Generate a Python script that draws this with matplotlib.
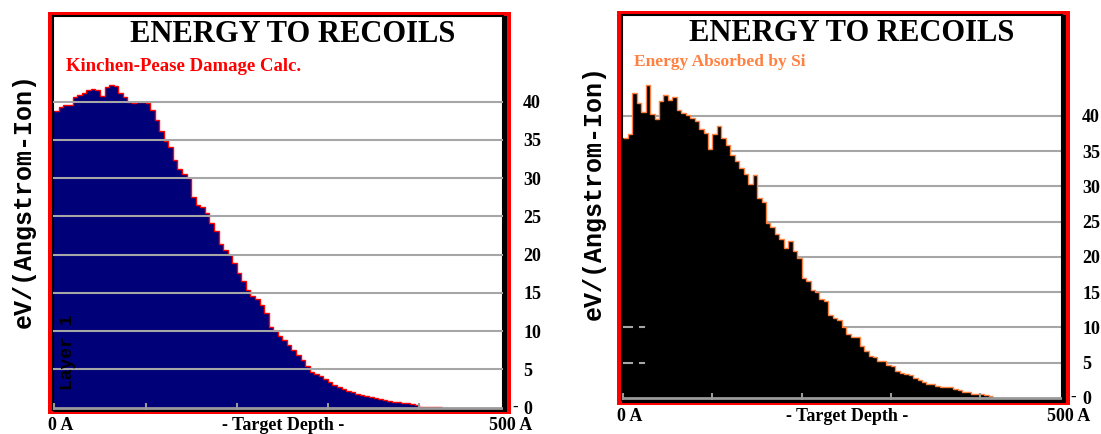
import numpy as np
import matplotlib
matplotlib.use("Agg")
import matplotlib.pyplot as plt
from matplotlib.patches import Rectangle
import matplotlib.transforms as mtransforms

# data: energy to recoils per 5 A depth bin, eV/(Angstrom-Ion)
bin_width = 5
kp_damage = [38.8, 39.3, 39.6, 39.6, 40.6, 40.9, 41.2, 41.5, 41.6, 41.5,
             40.8, 41.9, 42.2, 42.0, 41.2, 40.6, 40.0, 39.8, 40.0, 39.9,
             39.8, 38.9, 37.6, 36.2, 34.9, 34.1, 32.4, 31.2, 30.5, 30.0,
             27.6, 26.5, 26.2, 25.4, 24.1, 23.1, 21.4, 20.6, 20.0, 18.9,
             17.6, 16.6, 15.4, 14.6, 14.2, 13.4, 12.4, 10.6, 10.0, 9.4,
             8.8, 8.2, 7.5, 6.9, 6.2, 5.5, 4.7, 4.4, 4.1, 3.7,
             3.4, 3.0, 2.7, 2.4, 2.2, 2.0, 1.8, 1.7, 1.5, 1.4,
             1.3, 1.1, 1.0, 0.9, 0.8, 0.7, 0.6, 0.6, 0.5, 0.3,
             0.15, 0.15, 0.15, 0.15, 0.15]
si_absorbed = [36.8, 37.4, 43.3, 41.8, 40.6, 44.4, 40.2, 39.6, 42.1, 43.0,
               42.3, 42.6, 40.8, 40.4, 40.1, 39.7, 39.3, 38.2, 37.6, 35.3,
               37.4, 38.6, 36.9, 35.9, 34.5, 33.6, 32.6, 31.8, 30.4, 31.6,
               28.3, 27.8, 24.8, 24.3, 23.3, 22.6, 21.3, 22.3, 20.9, 19.8,
               17.0, 16.6, 15.3, 15.0, 14.0, 13.8, 11.8, 11.3, 11.1, 10.0,
               9.0, 8.7, 8.6, 7.3, 6.6, 6.0, 5.8, 5.3, 5.2, 4.7,
               4.5, 3.8, 3.5, 3.4, 3.2, 2.8, 2.6, 2.3, 2.0, 1.9,
               1.7, 1.6, 1.5, 1.5, 1.3, 1.1, 0.9, 0.8, 0.6, 0.5,
               0.5, 0.4, 0.3]
ytick_vals = [0, 5, 10, 15, 20, 25, 30, 35, 40]
xtick_vals = [0, 100, 200, 300, 400]

W, H = 1101, 434
fig = plt.figure(figsize=(W / 100, H / 100), dpi=100)

serif = "Liberation Serif"
mono = "Liberation Mono"


def box(x0, y0, x1, y1):
    # pixel box (top origin) -> figure fractions
    return [x0 / W, 1 - y1 / H, (x1 - x0) / W, (y1 - y0) / H]


def panel(ax_px, red_px, shadow_px, vals, fill, edge, sub, sub_color, sub_size,
          ymax, grid_on_top, title_x, sub_x, sub_y, lab_y):
    r = box(*red_px)
    fig.patches.append(Rectangle((r[0], r[1]), r[2], r[3], transform=fig.transFigure,
                                 facecolor="#ff0000", edgecolor="none", zorder=-3))
    s = box(*shadow_px)
    fig.patches.append(Rectangle((s[0], s[1]), s[2], s[3], transform=fig.transFigure,
                                 facecolor="black", edgecolor="none", zorder=-2))
    ax = fig.add_axes(box(*ax_px))
    ax.set_facecolor("white")
    ax.set_axisbelow(False)
    edges = np.arange(len(vals) + 1) * bin_width
    ax.stairs(vals, edges, fill=True, color=fill, zorder=2)
    ax.stairs(vals, edges, baseline=None, color=edge, lw=1.0, zorder=2.2)
    gz = 3 if grid_on_top else 1
    for yv in ytick_vals[1:]:
        ax.axhline(yv, color="#a6a6a6", lw=1.5, zorder=gz)
    ax.axhline(0, color="#9a9a9a", lw=2, zorder=3)
    ax.set_xlim(-1.5, 492)
    ax.set_ylim(-0.3, ymax)
    ax.set_xticks(xtick_vals)
    ax.tick_params(axis="x", direction="in", length=5, width=1.5, color="#9a9a9a",
                   labelbottom=False)
    ax.yaxis.tick_right()
    ax.set_yticks(ytick_vals)
    ax.tick_params(axis="y", length=0, pad=14.5, labelsize=13)
    for lab in ax.get_yticklabels():
        lab.set_fontfamily(serif)
        lab.set_fontweight("bold")
    for sp in ax.spines.values():
        sp.set_color("black")
        sp.set_linewidth(1.5)
    trans = mtransforms.blended_transform_factory(ax.transAxes, ax.transData)
    ax.text(1.02, 0, "-", transform=trans, ha="left", va="center",
            fontsize=12, fontfamily=serif, fontweight="bold")
    ax.text(title_x, 0.952, "ENERGY TO RECOILS", transform=ax.transAxes,
            ha="center", va="center", fontsize=22, fontfamily=serif, fontweight="bold")
    ax.text(sub_x, sub_y, sub, transform=ax.transAxes, ha="left", va="center",
            fontsize=sub_size, fontfamily=serif, fontweight="bold", color=sub_color)
    ax.text(-0.012, lab_y, "0 A", transform=ax.transAxes, ha="left", va="center",
            fontsize=13, fontfamily=serif, fontweight="bold")
    ax.text(1.064, lab_y, "500 A", transform=ax.transAxes, ha="right", va="center",
            fontsize=13, fontfamily=serif, fontweight="bold")
    ax.text(0.512, lab_y, "- Target Depth -", transform=ax.transAxes, ha="center",
            va="center", fontsize=13, fontfamily=serif, fontweight="bold")
    return ax


ax1 = panel((53, 16, 503, 410), (48, 12, 511, 414), (53, 16, 507, 412),
            kp_damage, "#000078", "#ff0000", "Kinchen-Pease Damage Calc.", "#ff0000",
            13.5, 51.2, True, 0.533, 0.029, 0.873, -0.04)
ax2 = panel((622, 15, 1062, 400), (617, 11, 1070, 405), (622, 15, 1066, 403),
            si_absorbed, "#000000", "#ff8040", "Energy Absorbed by Si", "#ff8040",
            12.5, 54.3, False, 0.523, 0.027, 0.878, -0.042)

# leftover grid bits near the left edge of the right panel
for yv in [5, 10]:
    ax2.axhline(yv, xmin=0.005, xmax=0.023, color="#a6a6a6", lw=1.5, zorder=3)
    ax2.axhline(yv, xmin=0.041, xmax=0.05, color="#a6a6a6", lw=1.5, zorder=3)

ax1.text(0.033, 0.147, "Layer 1", transform=ax1.transAxes, rotation=90,
         ha="center", va="center", fontsize=13, fontfamily=mono, fontweight="bold",
         color="black", zorder=4)

fig.text(24 / W, 1 - 200 / H, "eV/(Angstrom-Ion)", rotation=90, ha="center",
         va="center", fontsize=18, fontfamily=mono, fontweight="bold")
fig.text(594 / W, 1 - 192 / H, "eV/(Angstrom-Ion)", rotation=90, ha="center",
         va="center", fontsize=18, fontfamily=mono, fontweight="bold")

fig.savefig("out.png", dpi=100, facecolor="white")
